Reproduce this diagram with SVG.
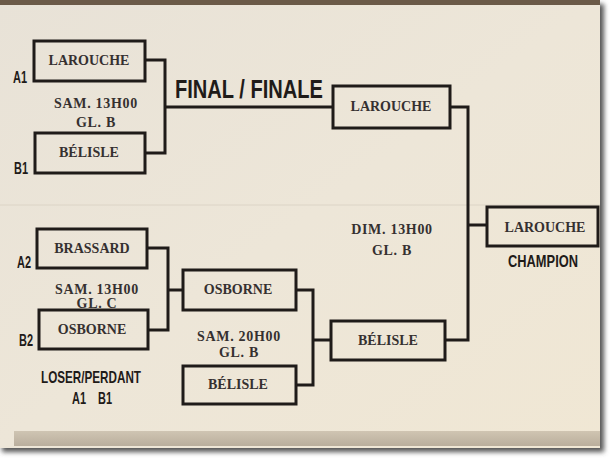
<svg xmlns="http://www.w3.org/2000/svg" width="612" height="462" viewBox="0 0 612 462">
<defs>
<linearGradient id="board" x1="0" y1="0" x2="1" y2="1">
<stop offset="0" stop-color="#e8e2d7"/>
<stop offset="0.5" stop-color="#ede6d8"/>
<stop offset="1" stop-color="#f0e7d4"/>
</linearGradient>
<linearGradient id="bottom" x1="0" y1="0" x2="0" y2="1">
<stop offset="0" stop-color="#c2b6a3"/>
<stop offset="1" stop-color="#a39684"/>
</linearGradient>
<filter id="sh" x="-5%" y="-5%" width="110%" height="110%">
<feGaussianBlur stdDeviation="2.5"/>
</filter>
</defs>
<style>
.box{fill:none;stroke:#1f1b19;stroke-width:3}
.ln{fill:none;stroke:#1f1b19;stroke-width:3}
.nm{font-family:"Liberation Serif",serif;font-weight:bold;font-size:14px;fill:#353030;text-anchor:middle}
.tm{font-family:"Liberation Serif",serif;font-weight:bold;font-size:14px;letter-spacing:0.7px;fill:#353030;text-anchor:middle}
.lb{font-family:"Liberation Sans",Arial,sans-serif;font-weight:bold;font-size:17px;fill:#1f1b19;text-anchor:middle}
</style>
<rect x="0" y="0" width="612" height="462" fill="#ffffff"/>
<rect x="2" y="4" width="602" height="448" fill="#555" filter="url(#sh)"/>
<rect x="0" y="0" width="600" height="448" fill="url(#board)"/>
<rect x="0" y="0" width="600" height="5" fill="#6b5a48"/>
<rect x="14" y="431" width="586" height="15" fill="url(#bottom)" opacity="0.7"/>
<line x1="0" y1="205" x2="600" y2="205" stroke="#dcd4c6" stroke-width="1"/>

<g id="connectors">
<polyline class="ln" points="145,60 165,60 165,153 145,153"/>
<line class="ln" x1="165" y1="107" x2="333" y2="107"/>
<polyline class="ln" points="450,107 468,107 468,340 445,340"/>
<line class="ln" x1="468" y1="225" x2="487" y2="225"/>
<polyline class="ln" points="147,248 168,248 168,330 148,330"/>
<line class="ln" x1="168" y1="290" x2="183" y2="290"/>
<polyline class="ln" points="296,290 313,290 313,385 296,385"/>
<line class="ln" x1="313" y1="340" x2="331" y2="340"/>
</g>

<g id="a1">
<rect class="box" x="34" y="41" width="111" height="40"/>
<text class="nm" x="89" y="65">LAROUCHE</text>
<text class="lb" x="20" y="83" textLength="14" lengthAdjust="spacingAndGlyphs">A1</text>
</g>
<g id="b1">
<rect class="box" x="35" y="133" width="110" height="40"/>
<text class="nm" x="89" y="157">BÉLISLE</text>
<text class="lb" x="21" y="174" textLength="14" lengthAdjust="spacingAndGlyphs">B1</text>
</g>
<g id="game1">
<text class="tm" x="96" y="108">SAM. 13H00</text>
<text class="tm" x="96" y="127">GL. B</text>
</g>
<g id="final-title">
<text x="175" y="98" font-family="'Liberation Sans',Arial,sans-serif" font-weight="bold" font-size="26" fill="#1f1b19" textLength="148" lengthAdjust="spacingAndGlyphs">FINAL / FINALE</text>
</g>
<g id="final-larouche">
<rect class="box" x="333" y="86" width="117" height="42"/>
<text class="nm" x="391" y="111">LAROUCHE</text>
</g>
<g id="a2">
<rect class="box" x="37" y="229" width="110" height="39"/>
<text class="nm" x="92" y="253">BRASSARD</text>
<text class="lb" x="24" y="268" textLength="14" lengthAdjust="spacingAndGlyphs">A2</text>
</g>
<g id="b2">
<rect class="box" x="39" y="310" width="109" height="39"/>
<text class="nm" x="92" y="334">OSBORNE</text>
<text class="lb" x="26" y="346" textLength="14" lengthAdjust="spacingAndGlyphs">B2</text>
</g>
<g id="game2">
<text class="tm" x="97" y="294">SAM. 13H00</text>
<text class="tm" x="97" y="308">GL. C</text>
</g>
<g id="loser">
<text class="lb" x="91" y="383" textLength="100" lengthAdjust="spacingAndGlyphs">LOSER/PERDANT</text>
<text class="lb" x="79" y="404" textLength="14" lengthAdjust="spacingAndGlyphs">A1</text>
<text class="lb" x="105" y="404" textLength="14" lengthAdjust="spacingAndGlyphs">B1</text>
</g>
<g id="osborne">
<rect class="box" x="183" y="270" width="113" height="40"/>
<text class="nm" x="238" y="294">OSBORNE</text>
</g>
<g id="game3">
<text class="tm" x="239" y="341">SAM. 20H00</text>
<text class="tm" x="239" y="357">GL. B</text>
</g>
<g id="belisle-bottom">
<rect class="box" x="183" y="366" width="113" height="38"/>
<text class="nm" x="238" y="389">BÉLISLE</text>
</g>
<g id="belisle-semi">
<rect class="box" x="331" y="321" width="114" height="39"/>
<text class="nm" x="388" y="345">BÉLISLE</text>
</g>
<g id="game4">
<text class="tm" x="392" y="234">DIM. 13H00</text>
<text class="tm" x="392" y="255">GL. B</text>
</g>
<g id="champion">
<rect class="box" x="487" y="207" width="111" height="39"/>
<text class="nm" x="545" y="232">LAROUCHE</text>
<text class="lb" x="543" y="267" textLength="70" lengthAdjust="spacingAndGlyphs">CHAMPION</text>
</g>
</svg>
